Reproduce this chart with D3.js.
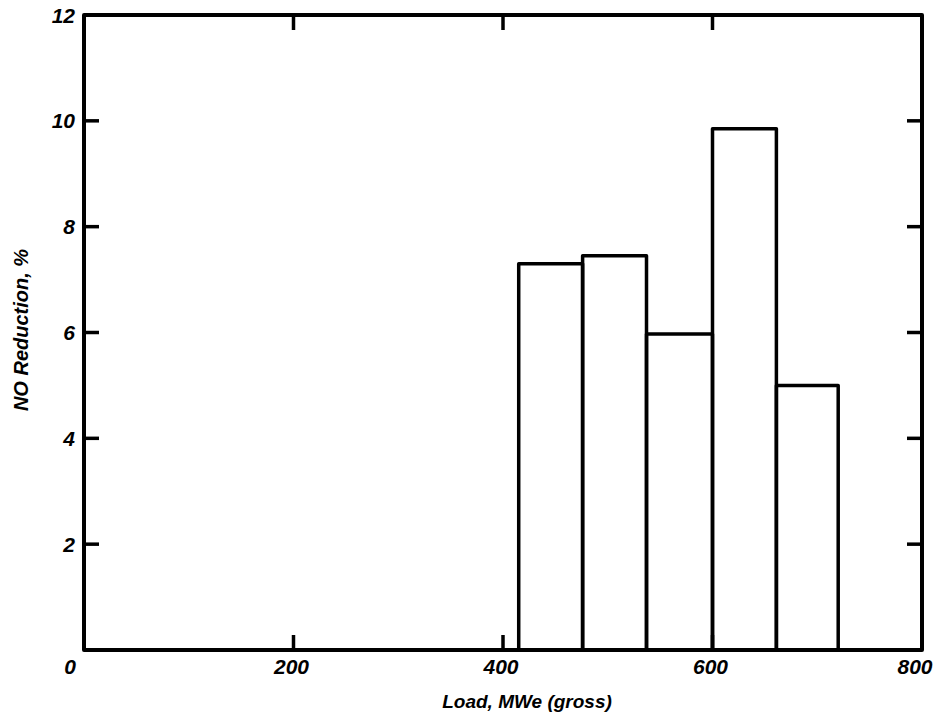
<!DOCTYPE html>
<html>
<head>
<meta charset="utf-8">
<script src="https://cdn.jsdelivr.net/npm/d3@7"></script>
<style>
  html, body { margin: 0; padding: 0; background: #fff; }
  svg text { font-family: "Liberation Sans", Arial, sans-serif; font-style: italic; font-weight: bold; fill: #000; }
</style>
</head>
<body>
<div id="chart"></div>
<script>
// Histogram bins (load, MWe) and NO reduction (%)
const binStarts = [415, 476, 537, 600, 661];
const binEnds = [476, 537, 600, 661, 720];
const reduction = [7.3, 7.45, 5.97, 9.85, 5.0];

const xTicks = [0, 200, 400, 600, 800];
const yTicks = [2, 4, 6, 8, 10, 12];

const width = 936, height = 712;
const margin = { top: 15, right: 14, bottom: 62, left: 84 };
const innerW = width - margin.left - margin.right;
const innerH = height - margin.top - margin.bottom;

const svg = d3.select('#chart').append('svg')
  .attr('width', width)
  .attr('height', height);

const g = svg.append('g')
  .attr('transform', `translate(${margin.left},${margin.top})`);

const x = d3.scaleLinear().domain([0, 800]).range([0, innerW]);
const y = d3.scaleLinear().domain([0, 12]).range([innerH, 0]);

const tickLen = 15;

// bars
g.selectAll('.bar')
  .data(reduction)
  .enter()
  .append('rect')
  .attr('class', 'bar')
  .attr('x', (d, i) => x(binStarts[i]))
  .attr('width', (d, i) => x(binEnds[i]) - x(binStarts[i]))
  .attr('y', d => y(d))
  .attr('height', d => innerH - y(d))
  .attr('fill', 'none')
  .attr('stroke', '#000')
  .attr('stroke-width', 3.5)
  .attr('stroke-linejoin', 'round');

// inward ticks on all sides
const inner = xTicks.filter(t => t > 0 && t < 800);
const innerY = yTicks.filter(t => t < 12);

g.selectAll('.xtb').data(inner).enter().append('line')
  .attr('x1', d => x(d)).attr('x2', d => x(d))
  .attr('y1', innerH).attr('y2', innerH - tickLen)
  .attr('stroke', '#000').attr('stroke-width', 3.5);
g.selectAll('.xtt').data(inner).enter().append('line')
  .attr('x1', d => x(d)).attr('x2', d => x(d))
  .attr('y1', 0).attr('y2', tickLen)
  .attr('stroke', '#000').attr('stroke-width', 3.5);
g.selectAll('.ytl').data(innerY).enter().append('line')
  .attr('x1', 0).attr('x2', tickLen)
  .attr('y1', d => y(d)).attr('y2', d => y(d))
  .attr('stroke', '#000').attr('stroke-width', 3.5);
g.selectAll('.ytr').data(innerY).enter().append('line')
  .attr('x1', innerW).attr('x2', innerW - tickLen)
  .attr('y1', d => y(d)).attr('y2', d => y(d))
  .attr('stroke', '#000').attr('stroke-width', 3.5);

// frame
g.append('rect')
  .attr('x', 0).attr('y', 0)
  .attr('width', innerW).attr('height', innerH)
  .attr('fill', 'none')
  .attr('stroke', '#000')
  .attr('stroke-width', 4)
  .attr('stroke-linejoin', 'round');

// tick labels
g.selectAll('.xl').data(xTicks).enter().append('text')
  .attr('x', d => x(d) + (d === 0 ? -14 : d === 800 ? -7 : -2))
  .attr('y', innerH + 24)
  .attr('text-anchor', 'middle')
  .attr('font-size', '21px')
  .text(d => d);

g.selectAll('.yl').data(yTicks).enter().append('text')
  .attr('x', -9)
  .attr('y', d => y(d))
  .attr('dy', '0.36em')
  .attr('text-anchor', 'end')
  .attr('font-size', '21px')
  .text(d => d);

// axis titles
svg.append('text')
  .attr('x', 527)
  .attr('y', 708)
  .attr('text-anchor', 'middle')
  .attr('font-size', '19px')
  .text('Load, MWe (gross)');

svg.append('text')
  .attr('transform', 'translate(28,330) rotate(-90)')
  .attr('text-anchor', 'middle')
  .attr('font-size', '20px')
  .text('NO Reduction, %');
</script>
</body>
</html>
